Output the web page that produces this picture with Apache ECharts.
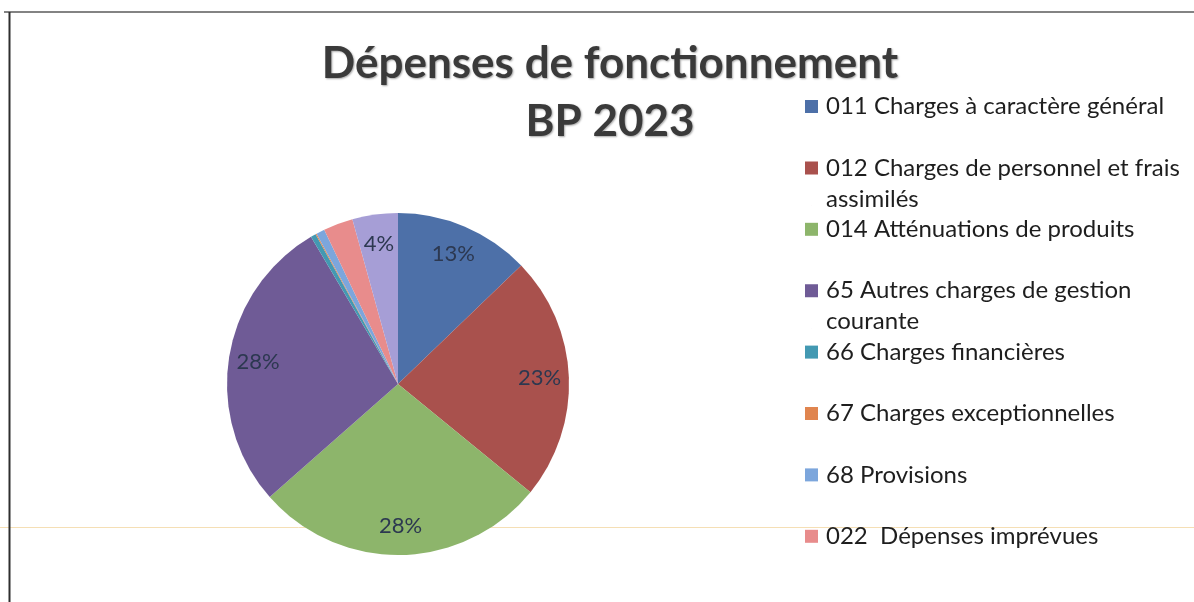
<!DOCTYPE html>
<html>
<head>
<meta charset="utf-8">
<style>
  html, body { margin: 0; padding: 0; background: #fff; }
  #chart { width: 1194px; height: 602px; }
</style>
</head>
<body>
<div id="chart"></div>
<script src="https://cdn.jsdelivr.net/npm/echarts@6/dist/echarts.min.js"></script>
<script>
// catégories (ordre des secteurs, sens horaire depuis midi)
var categories = [
  "011 Charges à caractère général",
  "012 Charges de personnel et frais assimilés",
  "014 Atténuations de produits",
  "65 Autres charges de gestion courante",
  "66 Charges financières",
  "67 Charges exceptionnelles",
  "68 Provisions",
  "022  Dépenses imprévues",
  "023 Virement à la section d'investissement"   // secteur 4%, absent de la légende
];
// parts (%)
var values = [12.8, 23.1, 27.6, 28.0, 0.5, 0.1, 0.8, 2.8, 4.3];
var colors = ["#4d70a8", "#a9514d", "#8db56b", "#6f5b96", "#4399b2", "#e0854f", "#7ca6dc", "#e88c8c", "#a69ed6"];
// entrées visibles de la légende (les 8 premières)
var legendNames = categories.slice(0, 8);
// retours à la ligne comme dans l'original
var legendWrap = {
  "012 Charges de personnel et frais assimilés": "012 Charges de personnel et frais\nassimilés",
  "65 Autres charges de gestion courante": "65 Autres charges de gestion\ncourante"
};

var chart = echarts.init(document.getElementById("chart"));
var pieCenter = [398, 384];
var pieRadius = 171;

// une légende par entrée : pas fixe de ~61px comme dans Excel
// pour les entrées sur 2 lignes, l'icône est haute de 44px mais le carré
// n'occupe que le haut, ainsi il reste aligné sur la première ligne
var squareTop = "path://M0,0H13V13H0Z M6,43.9h0.1v0.1h-0.1Z";
var legends = legendNames.map(function (name, i) {
  var twoLines = legendWrap[name] !== undefined;
  return {
    data: [{ name: name, icon: twoLines ? squareTop : "rect" }],
    orient: "vertical",
    left: 805,
    top: 91 + i * 61.4,
    padding: 0,
    itemWidth: 13,
    itemHeight: twoLines ? 44 : 13,
    selectedMode: false,
    formatter: function (n) { return legendWrap[n] || n; },
    textStyle: {
      fontFamily: "Lato",
      fontSize: 24,
      color: "#1e1e1e",
      lineHeight: 31,
      padding: [0, 0, 0, 3]
    }
  };
});

var option = {
  backgroundColor: "#fff",
  animation: false,
  color: colors,
  title: {
    text: "Dépenses de fonctionnement\nBP 2023",
    left: 605,
    top: 30,
    textAlign: "center",
    textStyle: {
      fontFamily: "Lato",
      fontSize: 44,
      fontWeight: "bold",
      color: "#3a3a3a",
      lineHeight: 58,
      textShadowColor: "rgba(0,0,0,0.35)",
      textShadowBlur: 2,
      textShadowOffsetX: 1,
      textShadowOffsetY: 1
    }
  },
  legend: legends,
  graphic: [
    { type: "line", shape: { x1: 4, y1: 12, x2: 1194, y2: 12 }, style: { stroke: "#5a5a5a", lineWidth: 1.5 } },
    { type: "line", shape: { x1: 9.5, y1: 12, x2: 9.5, y2: 602 }, style: { stroke: "#2e2e2e", lineWidth: 2 } },
    { type: "line", shape: { x1: 0, y1: 527.5, x2: 1194, y2: 527.5 }, style: { stroke: "#f5dfb5", lineWidth: 1 }, z: -1 }
  ],
  series: [{
    type: "pie",
    center: pieCenter,
    radius: pieRadius,
    startAngle: 90,
    clockwise: true,
    avoidLabelOverlap: false,
    silent: true,
    itemStyle: { borderWidth: 0 },
    label: {
      show: true,
      position: "inside",
      fontFamily: "Lato",
      fontSize: 22,
      color: "#2c3850",
      formatter: function (p) {
        return p.percent >= 3.5 ? Math.round(p.percent) + "%" : "";
      }
    },
    labelLine: { show: false },
    // étiquettes à ~0,8 du rayon comme dans Excel (au lieu de 0,5)
    labelLayout: function (p) {
      var r = p.labelRect;
      var lx = r.x + r.width / 2, ly = r.y + r.height / 2;
      return {
        x: pieCenter[0] + (lx - pieCenter[0]) * 1.6,
        y: pieCenter[1] + (ly - pieCenter[1]) * 1.6,
        align: "center",
        verticalAlign: "middle"
      };
    },
    data: categories.map(function (c, i) {
      return { name: c, value: values[i] };
    })
  }]
};

chart.setOption(option);
</script>
</body>
</html>
